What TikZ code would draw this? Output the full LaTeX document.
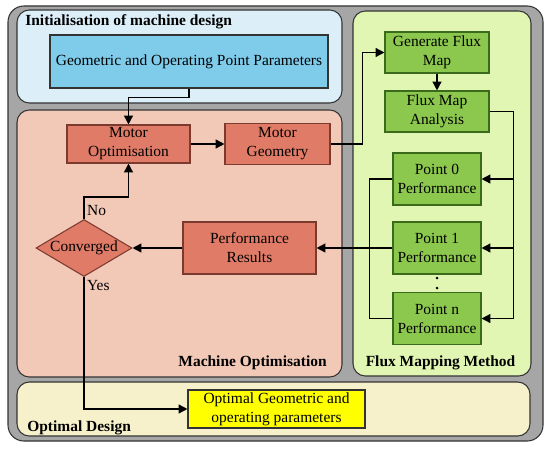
\documentclass[tikz,border=0pt]{standalone}
\usepackage{fontspec}
\setmainfont{Liberation Serif}
\usepackage{tikz}
\usetikzlibrary{calc}
\usetikzlibrary{shapes.geometric, positioning, arrows.meta}
\definecolor{outergray}{HTML}{A6A6A6}
\definecolor{initpanel}{HTML}{DCEFF9}
\definecolor{initbox}{HTML}{7FCBEA}
\definecolor{optpanel}{HTML}{F2C8B7}
\definecolor{optbox}{HTML}{E07B67}
\definecolor{optline}{HTML}{7A3B2E}
\definecolor{fluxpanel}{HTML}{E1F6B3}
\definecolor{fluxbox}{HTML}{8CC84D}
\definecolor{fluxline}{HTML}{3C6A1C}
\definecolor{endpanel}{HTML}{F6F1CA}
\definecolor{endbox}{HTML}{FFFF00}
\tikzstyle{arrow} = [thick,-{Triangle[length=5pt,width=5pt]}]
\tikzstyle{line} = [thick]
\tikzstyle{panel} = [draw=black!80, line width=0.6pt, rounded corners=7pt]
\tikzstyle{blk} = [rectangle, align=center, inner sep=1pt, line width=0.6pt]
\tikzstyle{ttl} = [font=\fontsize{8.8}{10.8}\selectfont\bfseries, inner sep=0pt]
\tikzstyle{dot} = [circle, fill=black, inner sep=0pt, minimum size=1.7pt]

\begin{document}
\begin{tikzpicture}[node distance=1.5cm,on grid,font=\fontsize{8.8}{10.8}\selectfont]
	\useasboundingbox (0,0) rectangle (11,-8.98);
	% panels
	\draw[panel,fill=outergray,rounded corners=9pt] (0.16,-0.12) rectangle (10.86,-8.82);
	\draw[panel,fill=initpanel] (0.34,-0.2) rectangle (6.84,-2.06);
	\draw[panel,fill=optpanel] (0.34,-2.2) rectangle (6.84,-7.54);
	\draw[panel,fill=fluxpanel] (7.06,-0.22) rectangle (10.62,-7.52);
	\draw[panel,fill=endpanel] (0.34,-7.64) rectangle (10.6,-8.72);
	\node[ttl,anchor=west](t_init) at (0.5,-0.43){Initialisation of machine design};
	\node[ttl,anchor=east](t_opt) at (6.54,-7.26){Machine Optimisation};
	\node[ttl](t_flux) at (8.81,-7.26){Flux Mapping Method};
	\node[ttl,anchor=west](t_end) at (0.54,-8.56){Optimal Design};
	% blocks
	\node[blk,draw=black!80,fill=initbox,minimum width=5.56cm,minimum height=1.06cm](geo) at (3.78,-1.23){Geometric and Operating Point Parameters};
	\node[blk,draw=optline,fill=optbox,minimum width=2.46cm,minimum height=0.76cm][below left=1.65cm and 1.21cm of geo](m_opt){Motor\\Optimisation};
	\node[blk,draw=optline,fill=optbox,minimum width=2.1cm,minimum height=0.82cm][right=2.98cm of m_opt](m_geo){Motor\\Geometry};
	\node[blk,draw=fluxline,fill=fluxbox,minimum width=2.08cm,minimum height=0.82cm](f_gen) at (8.74,-1.05){Generate Flux\\Map};
	\node[blk,draw=fluxline,fill=fluxbox,minimum width=2.08cm,minimum height=0.82cm][below=1.18cm of f_gen](f_ana){Flux Map\\Analysis};
	\node[blk,draw=fluxline,fill=fluxbox,minimum width=1.76cm,minimum height=1.04cm][below=1.35cm of f_ana](p_0){Point 0\\Performance};
	\node[blk,draw=fluxline,fill=fluxbox,minimum width=1.76cm,minimum height=1.04cm][below=1.38cm of p_0](p_1){Point 1\\Performance};
	\node[blk,draw=fluxline,fill=fluxbox,minimum width=1.76cm,minimum height=1.04cm][below=1.41cm of p_1](p_n){Point n\\Performance};
	\node[dot][below=0.6cm of p_1](dot_1){};
	\node[dot][below=0.8cm of p_1](dot_2){};
	\node[blk,draw=optline,fill=optbox,minimum width=2.66cm,minimum height=1.04cm][left=3.75cm of p_1](perf){Performance\\Results};
	\node[diamond,aspect=1.68,draw=optline,fill=optbox,line width=0.6pt,inner sep=0pt,minimum width=1.92cm,minimum height=1.14cm][left=3.31cm of perf](conv){Converged};
	\node[blk,draw=black!80,fill=endbox,minimum width=3.54cm,minimum height=0.76cm][below right=3.22cm and 0.54cm of perf](opt){Optimal Geometric and\\operating parameters};
	\node[anchor=south west,inner sep=1pt](no) at ($(conv.north)+(0.02,0.02)$){No};
	\node[anchor=north west,inner sep=1pt](yes) at ($(conv.south)+(0.02,-0.02)$){Yes};
	% connectors
	\draw[arrow] (geo.south) -- ++(0,-0.18) -| (m_opt.north);
	\draw[arrow] (m_opt.east) -- (m_opt.east -| m_geo.west);
	\draw[arrow] (m_geo.east) -- ++(0.64,0) |- (f_gen.west);
	\draw[arrow] (f_gen) -- (f_ana);
	\draw[arrow] (f_ana.east) -- ++(0.48,0) coordinate (r_bus) |- (p_n.east);
	\draw[arrow] (r_bus |- p_0.east) -- (p_0.east);
	\draw[arrow] (r_bus |- p_1.east) -- (p_1.east);
	\draw[line] (p_0.west) -- ++(-0.46,0) |- (p_n.west);
	\draw[arrow] (p_1.west) -- (perf.east);
	\draw[arrow] (perf.west) -- (conv.east);
	\draw[arrow] (conv.north) -- ++(0,0.44) -| (m_opt.south);
	\draw[arrow] (conv.south) |- (opt.west);
\end{tikzpicture}
\end{document}
